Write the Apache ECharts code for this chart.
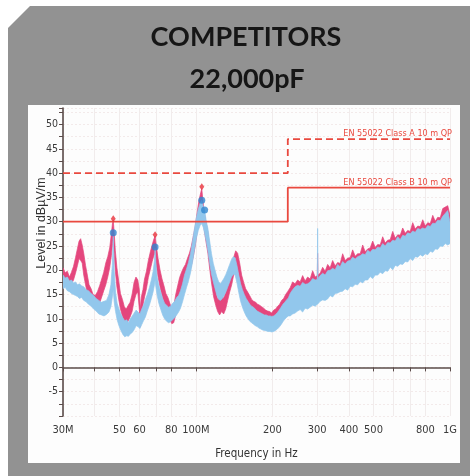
<!DOCTYPE html>
<html>
<head>
<meta charset="utf-8">
<script src="https://cdn.jsdelivr.net/npm/echarts@6/dist/echarts.min.js"></script>
<style>
html,body{margin:0;padding:0;background:#ffffff;}
#c{width:470px;height:476px;}
</style>
</head>
<body>
<div id="c"></div>
<script>
// ---------- DATA ----------
const titleLines = ['COMPETITORS', '22,000pF'];
const xAxisName = 'Frequency in Hz';
const yAxisName = 'Level in dB\u00B5V/m';

const xTickFreqs = [30, 40, 50, 60, 70, 80, 100, 200, 300, 400, 500, 600, 700, 800, 1000];
const xLabelFreqs = [30, 50, 60, 80, 100, 200, 300, 400, 500, 800, 1000];
const xLabelTexts = ['30M', '50', '60', '80', '100M', '200', '300', '400', '500', '800', '1G'];

const limitFreq = [30, 230, 230, 1000];
const classA = [40, 40, 47, 47];
const classB = [30, 30, 37, 37];
const classALabel = 'EN 55022 Class A 10 m QP';
const classBLabel = 'EN 55022 Class B 10 m QP';

// Pink trace (frequency in MHz, lower / upper edge of the noisy trace in dBuV/m)
const pinkFreq = [30.0,30.6,31.2,31.8,32.4,33.0,33.6,34.2,34.7,35.2,35.7,36.2,36.8,37.4,38.0,38.7,39.4,40.2,41.0,41.8,42.6,43.4,44.2,45.0,45.8,46.5,47.0,47.3,47.7,48.2,48.9,49.7,50.5,51.4,52.3,53.2,54.2,55.1,56.1,57.1,58.1,59.1,59.9,60.4,61.0,61.9,62.8,63.9,65.0,66.2,67.3,68.3,69.1,69.9,71.0,72.3,73.6,74.9,76.2,77.6,79.0,80.4,81.8,83.3,84.8,86.3,87.8,89.4,91.0,92.6,94.3,96.0,97.7,99.4,101.2,103.0,104.5,105.5,106.5,107.8,109.5,111.5,113.5,115.5,117.5,119.7,121.8,124.0,126.3,128.6,131.0,133.4,135.8,138.3,140.8,143.4,146.0,148.7,151.4,154.2,157.0,159.9,162.8,165.8,168.8,171.9,175.0,178.2,181.5,184.8,188.2,191.6,195.1,198.7,202.3,206.0,209.8,213.6,217.5,221.5,225.5,229.6,
234.9,240.3,245.8,251.4,257.2,263.1,269.1,275.3,281.6,288.1,294.7,300.4,301.4,302.4,308.3,315.4,322.6,330.0,337.6,345.3,353.2,361.3,369.6,378.1,386.8,395.6,404.7,414.0,423.5,433.2,443.1,453.3,463.7,474.3,485.2,496.3,507.7,519.3,531.2,543.4,555.9,568.6,581.7,595.0,608.7,622.6,636.9,651.5,666.4,681.7,697.3,713.3,729.7,746.4,763.5,781.0,798.9,817.2,836.0,855.2,874.8,894.8,915.3,936.3,957.8,979.8,1000];
const pinkLo = [17.0,17.5,16.5,16.8,17.2,18.0,19.4,21.0,22.4,22.0,21.5,19.0,17.0,15.2,14.0,13.0,12.5,12.2,12.8,13.2,14.5,15.8,17.0,18.6,20.5,23.0,25.5,26.5,23.5,19.8,16.5,14.0,12.0,10.5,9.5,8.8,9.6,10.4,11.5,13.6,15.0,15.5,12.0,8.3,10.5,12.8,14.5,16.2,18.5,20.2,21.8,23.0,23.6,21.0,18.6,16.5,14.8,13.2,12.0,10.8,9.8,9.0,9.2,10.8,13.0,14.5,15.8,16.4,17.6,18.5,19.6,21.0,22.8,25.0,28.0,30.5,32.0,32.5,31.0,28.5,26.0,23.5,20.0,17.0,14.5,12.8,11.5,10.8,11.5,11.0,12.0,13.8,15.5,17.0,19.0,20.5,20.0,17.8,15.5,14.2,13.0,12.2,11.5,11.0,10.5,10.2,10.0,9.6,9.4,9.0,8.8,8.6,8.5,8.4,8.6,8.8,9.2,9.8,10.4,11.0,11.6,12.0,
11.6,11.8,12.0,12.4,12.6,12.3,13.0,12.8,13.2,13.6,13.4,13.8,13.8,13.9,14.4,14.7,14.6,14.9,15.6,15.3,16.0,16.1,16.4,16.5,17.0,16.7,17.5,17.4,17.9,17.8,18.5,18.2,18.8,18.8,19.5,19.1,19.8,19.8,20.4,20.1,20.7,20.6,21.4,20.9,21.8,21.6,22.1,22.0,22.6,22.5,23.2,22.8,23.6,23.5,24.0,23.7,24.2,24.0,24.7,24.5,25.2,25.1,25.8,25.7,26.3,26.0,26.3];
const pinkHi = [20.5,19.5,19.8,18.6,19.6,20.8,22.6,24.5,26.0,26.5,25.2,23.5,21.0,19.0,17.0,16.2,15.0,14.8,15.6,16.8,18.2,19.6,21.5,22.8,24.6,27.5,29.8,30.3,27.8,24.0,20.5,17.8,15.2,14.0,12.5,12.0,12.8,13.4,15.0,17.5,18.6,18.0,16.0,12.0,14.5,16.0,18.2,19.8,22.0,23.8,25.2,26.4,27.0,25.0,22.4,20.0,18.2,16.8,15.2,14.4,13.2,12.0,12.6,15.0,16.8,18.5,19.6,20.5,21.2,22.4,23.5,25.0,27.0,29.0,32.0,34.5,36.0,36.8,34.5,32.0,30.0,27.8,24.0,21.0,18.0,16.0,14.0,14.8,15.0,14.2,15.5,17.2,19.2,20.5,22.6,24.0,23.5,21.5,19.0,17.5,16.2,15.5,14.8,14.0,13.6,13.4,13.0,12.8,12.5,12.2,11.8,11.6,11.5,11.2,11.8,12.0,12.6,13.0,13.8,14.2,15.0,15.6,
16.4,17.6,17.2,18.0,17.6,18.9,17.8,18.6,18.2,19.9,18.6,18.9,23.5,19.0,19.4,20.6,19.8,21.2,20.5,22.0,20.9,21.6,21.4,23.4,22.0,22.5,22.6,24.2,22.9,23.4,23.4,25.2,23.8,24.4,24.6,26.0,24.7,25.3,25.2,26.9,25.6,26.2,26.3,28.0,26.6,27.3,27.2,28.7,27.6,28.2,28.0,29.8,28.5,29.1,29.0,30.4,29.1,29.8,29.6,31.3,30.1,30.9,30.8,32.7,33.0,33.3,31.3];

// Blue trace
const blueFreq = [30.0,30.6,31.2,31.8,32.4,33.0,33.6,34.2,34.8,35.5,36.2,37.0,37.8,38.7,39.6,40.5,41.5,42.5,43.5,44.5,45.5,46.3,46.9,47.3,47.7,48.3,49.0,49.8,50.7,51.6,52.5,53.4,54.3,55.2,56.2,57.2,58.2,59.2,60.2,61.2,62.2,63.3,64.4,65.6,66.8,67.9,68.7,69.1,69.6,70.4,71.5,72.7,74.0,75.3,76.7,78.1,79.5,81.0,82.5,84.0,85.5,87.0,88.6,90.2,91.8,93.5,95.2,96.9,98.6,100.4,102.2,103.9,105.5,107.0,108.2,109.8,111.5,113.3,115.2,117.1,119.0,121.0,123.0,125.0,127.1,129.2,131.4,133.6,135.8,138.1,140.4,142.7,145.1,147.5,150.0,152.5,155.1,157.7,160.3,163.0,165.7,168.5,171.3,174.2,177.1,180.1,183.1,186.2,189.3,192.5,195.7,199.0,202.4,205.8,209.3,212.8,216.4,220.0,223.7,227.4,231.2,
234.9,240.3,245.8,251.4,257.2,263.1,269.1,275.3,281.6,288.1,294.7,300.4,301.4,302.4,308.3,315.4,322.6,330.0,337.6,345.3,353.2,361.3,369.6,378.1,386.8,395.6,404.7,414.0,423.5,433.2,443.1,453.3,463.7,474.3,485.2,496.3,507.7,519.3,531.2,543.4,555.9,568.6,581.7,595.0,608.7,622.6,636.9,651.5,666.4,681.7,697.3,713.3,729.7,746.4,763.5,781.0,798.9,817.2,836.0,855.2,874.8,894.8,915.3,936.3,957.8,979.8,1000];
const blueLo = [16.2,16.5,15.8,15.6,15.2,15.0,14.8,14.6,14.2,14.4,13.8,13.5,13.0,12.6,12.0,11.6,11.0,10.8,10.6,10.9,11.4,12.5,14.5,16.0,13.5,11.5,9.8,8.6,7.6,6.8,6.3,6.5,6.4,6.9,7.2,7.8,8.6,8.4,8.0,8.8,9.6,10.4,11.6,12.8,14.2,15.6,17.0,18.0,16.5,14.8,13.2,12.0,10.8,10.0,9.5,9.2,9.4,9.8,10.2,10.8,11.4,12.2,13.5,15.0,16.4,17.8,19.4,21.5,24.0,26.5,28.2,29.2,29.6,28.8,27.6,26.0,24.0,21.5,19.2,17.6,16.2,14.8,14.0,13.8,14.2,14.8,15.6,16.6,17.6,18.6,19.2,19.0,17.4,15.4,13.6,12.4,11.4,10.6,10.0,9.5,9.2,8.9,8.6,8.4,8.1,7.9,7.7,7.6,7.5,7.4,7.4,7.3,7.4,7.6,7.9,8.3,8.8,9.4,9.9,10.3,10.6,
10.6,11.0,11.2,11.6,11.9,11.4,12.2,12.0,12.4,12.8,12.6,13.0,13.0,13.1,13.6,13.9,13.8,14.1,14.8,14.5,15.2,15.3,15.6,15.7,16.2,15.9,16.7,16.6,17.1,17.0,17.7,17.4,18.0,18.0,18.7,18.3,19.0,19.0,19.6,19.3,19.9,19.8,20.6,20.1,21.0,20.8,21.3,21.2,21.8,21.7,22.4,22.0,22.8,22.7,23.2,22.9,23.4,23.2,23.9,23.7,24.4,24.3,25.0,24.9,25.5,25.2,25.5];
const blueHi = [19.0,18.4,18.6,17.8,18.0,17.4,17.6,17.0,17.2,16.8,16.6,16.0,15.8,15.2,14.8,14.2,13.8,13.4,13.6,13.8,15.0,17.0,21.0,27.0,20.0,15.5,13.2,12.0,11.0,10.2,9.6,9.8,9.2,10.0,10.6,11.2,11.8,11.4,11.0,12.0,12.8,14.0,15.0,16.4,18.0,19.8,22.0,24.5,21.5,18.6,16.8,15.5,14.2,13.2,12.8,12.4,12.6,13.2,13.6,14.4,14.8,15.8,17.2,19.0,20.2,21.6,23.4,25.8,28.4,30.8,32.6,33.8,34.4,33.0,32.4,30.2,28.6,26.0,23.4,21.4,20.0,18.6,17.6,17.2,17.8,18.4,19.2,20.2,21.2,22.2,22.8,22.6,21.0,19.0,17.2,16.0,15.0,14.2,13.6,13.0,12.6,12.4,12.0,11.6,11.4,11.2,11.0,10.8,10.8,10.6,10.6,10.5,10.6,10.9,11.3,11.8,12.4,13.0,13.4,13.9,14.3,
15.2,16.0,16.6,16.9,16.7,17.5,17.1,17.2,17.6,18.3,18.0,18.1,28.6,18.3,18.9,19.4,19.0,19.9,20.0,20.4,20.1,21.2,20.7,21.8,21.3,21.9,22.0,22.7,22.3,22.8,23.0,23.4,23.2,24.1,23.7,24.3,24.2,24.8,24.6,25.5,25.0,25.7,25.6,26.2,26.0,26.9,26.3,27.2,27.0,27.7,27.5,28.1,27.8,28.6,28.4,28.7,28.5,29.2,29.0,29.7,29.6,30.3,30.2,31.1,31.7,32.3,29.9];

// Marker peaks
const redPeakFreq = [47.3, 69.1, 105.5];
const redPeakVal = [30.6, 27.3, 37.2];
const bluePeakFreq = [47.3, 69.1, 105.5, 108.2];
const bluePeakVal = [27.7, 24.8, 34.4, 32.4];

// ---------- CHART ----------
const L = v => Math.log10(v);
const narrow = '"Liberation Sans Narrow", "Arial Narrow", "DejaVu Sans Condensed", sans-serif';
const limitColor = '#e9493f';
const pinkColor = '#e4467d';
const blueColor = '#92c7ec';

function band(freq, lo, hi, color) {
  return {
    type: 'custom',
    coordinateSystem: 'cartesian2d',
    silent: true,
    clip: true,
    data: freq.map((f, i) => [L(f), lo[i], hi[i]]),
    encode: { x: 0, y: [1, 2] },
    renderItem: function (params, api) {
      if (params.dataIndex !== 0) return null;
      const pts = [];
      for (let i = 0; i < freq.length; i++) pts.push(api.coord([L(freq[i]), hi[i]]));
      for (let i = freq.length - 1; i >= 0; i--) pts.push(api.coord([L(freq[i]), lo[i]]));
      return { type: 'polygon', shape: { points: pts }, style: { fill: color, stroke: color, lineWidth: 0.7 } };
    }
  };
}

function labelFor(v) {
  for (let i = 0; i < xLabelFreqs.length; i++) {
    if (Math.abs(L(xLabelFreqs[i]) - v) < 1e-6) return xLabelTexts[i];
  }
  return '';
}

const chart = echarts.init(document.getElementById('c'), null, { renderer: 'canvas' });

const option = {
  animation: false,
  backgroundColor: '#ffffff',
  grid: { left: 63, right: 20, top: 108, bottom: 60, containLabel: false },
  xAxis: {
    type: 'value',
    min: L(30),
    max: L(1000),
    name: xAxisName,
    nameLocation: 'middle',
    nameGap: 32,
    nameTextStyle: { fontFamily: narrow, fontSize: 11.5, color: '#333' },
    axisLine: { lineStyle: { color: '#5b4c4a', width: 1.6 } },
    axisTick: { customValues: xTickFreqs.map(L), length: 4, lineStyle: { color: '#5b4c4a', width: 1 } },
    axisLabel: {
      customValues: xLabelFreqs.map(L),
      formatter: labelFor,
      margin: 9,
      fontFamily: narrow,
      fontSize: 11,
      color: '#3a3a3a'
    },
    splitLine: { show: true, lineStyle: { color: '#f1ecec', width: 1 } }
  },
  yAxis: {
    type: 'value',
    min: -10,
    max: 53.4,
    interval: 2.5,
    axisLine: { show: true, lineStyle: { color: '#5b4c4a', width: 1.6 } },
    axisTick: { show: true, length: 4, lineStyle: { color: '#5b4c4a', width: 1 } },
    axisLabel: {
      margin: 5,
      fontFamily: narrow,
      fontSize: 10.5,
      color: '#3a3a3a',
      formatter: function (v) {
        const r = Math.round(v);
        if (Math.abs(v - r) > 1e-6 || r % 5 !== 0 || r <= -10 || r > 50) return '';
        return String(r);
      }
    },
    splitLine: { show: true, lineStyle: { color: '#f3eaea', width: 1, type: [2, 2] } }
  },
  series: [
    band(pinkFreq, pinkLo, pinkHi, pinkColor),
    band(blueFreq, blueLo, blueHi, blueColor),
    {
      type: 'line', name: classBLabel, symbol: 'none', silent: true, z: 5,
      data: limitFreq.map((f, i) => [L(f), classB[i]]),
      lineStyle: { color: limitColor, width: 1.8 }
    },
    {
      type: 'line', name: classALabel, symbol: 'none', silent: true, z: 5,
      data: limitFreq.map((f, i) => [L(f), classA[i]]),
      lineStyle: { color: limitColor, width: 1.8, type: [7, 4] }
    },
    {
      type: 'scatter', symbol: 'diamond', symbolSize: [5, 7], z: 6, silent: true,
      itemStyle: { color: '#e8303a' },
      data: redPeakFreq.map((f, i) => [L(f), redPeakVal[i]])
    },
    {
      type: 'scatter', symbol: 'circle', symbolSize: 7, z: 7, silent: true,
      itemStyle: { color: '#2f86cf' },
      data: bluePeakFreq.map((f, i) => [L(f), bluePeakVal[i]])
    }
  ],
  graphic: [
    { type: 'polygon', z: -10, silent: true,
      shape: { points: [[8, 28], [30, 6], [470, 6], [470, 476], [8, 476]] },
      style: { fill: '#929292' } },
    { type: 'rect', z: -9, silent: true,
      shape: { x: 28, y: 105, width: 432, height: 358 },
      style: { fill: '#fdfdfd' } },
    { type: 'text', z: 10, silent: true, x: 246, y: 37,
      style: { text: titleLines[0], fill: '#161616', font: 'bold 27px Lato, "Open Sans", sans-serif', textAlign: 'center', textVerticalAlign: 'middle' } },
    { type: 'text', z: 10, silent: true, x: 247, y: 79,
      style: { text: titleLines[1], fill: '#161616', font: 'bold 27px Lato, "Open Sans", sans-serif', textAlign: 'center', textVerticalAlign: 'middle' } },
    { type: 'text', z: 10, silent: true, x: 42, y: 223, rotation: Math.PI / 2,
      style: { text: yAxisName, fill: '#333', font: '12.5px "Liberation Sans", Arial, sans-serif', textAlign: 'center', textVerticalAlign: 'middle' } }
  ]
};

chart.setOption(option);

const pA = chart.convertToPixel({ gridIndex: 0 }, [L(1000), classA[3]]);
const pB = chart.convertToPixel({ gridIndex: 0 }, [L(1000), classB[3]]);
chart.setOption({
  graphic: option.graphic.concat([
    { type: 'text', z: 10, silent: true, x: pA[0] + 2, y: pA[1] - 1,
      style: { text: classALabel, fill: limitColor, font: '9px ' + narrow, textAlign: 'right', textVerticalAlign: 'bottom' } },
    { type: 'text', z: 10, silent: true, x: pB[0] + 2, y: pB[1] - 1,
      style: { text: classBLabel, fill: limitColor, font: '9px ' + narrow, textAlign: 'right', textVerticalAlign: 'bottom' } }
  ])
});
</script>
</body>
</html>
